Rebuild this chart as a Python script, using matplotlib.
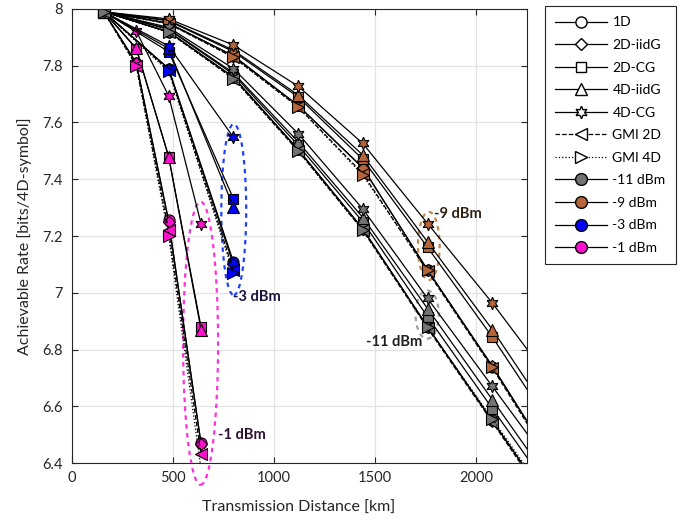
import matplotlib.pyplot as plt
from matplotlib.lines import Line2D
from matplotlib.patches import Ellipse

plt.rcParams['font.family'] = ['Lato', 'DejaVu Sans']

# distances [km] where each curve is sampled
dist_m11 = [160, 480, 800, 1120, 1440, 1760, 2080, 2400]
dist_m9 = [160, 480, 800, 1120, 1440, 1760, 2080, 2400]
dist_m3 = [160, 480, 800]
dist_m1 = [160, 320, 480, 640]

# -11 dBm
m11_1d = [7.99, 7.92, 7.76, 7.505, 7.225, 6.88, 6.55, 6.22]
m11_2diidg = [7.99, 7.92, 7.76, 7.505, 7.225, 6.88, 6.548, 6.22]
m11_2dcg = [7.99, 7.928, 7.77, 7.52, 7.25, 6.915, 6.592, 6.27]
m11_4diidg = [7.99, 7.93, 7.775, 7.532, 7.265, 6.944, 6.623, 6.30]
m11_4dcg = [7.99, 7.935, 7.79, 7.561, 7.295, 6.98, 6.67, 6.36]
m11_gmi2d = [7.99, 7.918, 7.755, 7.50, 7.22, 6.875, 6.544, 6.21]
m11_gmi4d = [7.99, 7.918, 7.755, 7.50, 7.22, 6.878, 6.556, 6.23]

# -9 dBm
m9_1d = [7.99, 7.95, 7.835, 7.66, 7.44, 7.08, 6.74, 6.38]
m9_2diidg = [7.99, 7.95, 7.835, 7.66, 7.44, 7.08, 6.742, 6.38]
m9_2dcg = [7.99, 7.958, 7.85, 7.69, 7.47, 7.16, 6.844, 6.50]
m9_4diidg = [7.99, 7.96, 7.855, 7.697, 7.485, 7.179, 6.87, 6.53]
m9_4dcg = [7.99, 7.965, 7.873, 7.728, 7.526, 7.244, 6.964, 6.66]
m9_gmi2d = [7.99, 7.948, 7.83, 7.655, 7.42, 7.075, 6.735, 6.37]
m9_gmi4d = [7.99, 7.948, 7.83, 7.655, 7.414, 7.079, 6.738, 6.38]

# -3 dBm
m3_1d = [7.99, 7.79, 7.11]
m3_2diidg = [7.99, 7.79, 7.10]
m3_2dcg = [7.99, 7.85, 7.332]
m3_4diidg = [7.99, 7.861, 7.303]
m3_4dcg = [7.99, 7.87, 7.548]
m3_gmi2d = [7.99, 7.785, 7.08]
m3_gmi4d = [7.99, 7.78, 7.068]

# -1 dBm
m1_1d = [7.99, 7.81, 7.255, 6.47]
m1_2diidg = [7.99, 7.81, 7.25, 6.468]
m1_2dcg = [7.99, 7.86, 7.48, 6.88]
m1_4diidg = [7.99, 7.862, 7.48, 6.87]
m1_4dcg = [7.99, 7.922, 7.694, 7.244]
m1_gmi2d = [7.99, 7.80, 7.22, 6.43]
m1_gmi4d = [7.99, 7.80, 7.20, 6.38]

format_names = ['1D', '2D-iidG', '2D-CG', '4D-iidG', '4D-CG', 'GMI 2D', 'GMI 4D']
power_names = ['-11 dBm', '-9 dBm', '-3 dBm', '-1 dBm']

markers = ['o', 'D', 's', '^', (6, 1, 0), '<', '>']
msizes = [8, 6.5, 7.5, 9, 9, 8.5, 8.5]
lstyles = ['-', '-', '-', '-', '-', '--', ':']
colors = ['#737373', '#b5653a', '#0000ff', '#ff10d0']

fig = plt.figure(figsize=(6.97, 5.23), dpi=100)
ax = fig.add_axes([0.1026, 0.1147, 0.6531, 0.8681])

groups = [
    (dist_m1, [m1_1d, m1_2diidg, m1_2dcg, m1_4diidg, m1_4dcg, m1_gmi2d, m1_gmi4d], colors[3]),
    (dist_m3, [m3_1d, m3_2diidg, m3_2dcg, m3_4diidg, m3_4dcg, m3_gmi2d, m3_gmi4d], colors[2]),
    (dist_m9, [m9_1d, m9_2diidg, m9_2dcg, m9_4diidg, m9_4dcg, m9_gmi2d, m9_gmi4d], colors[1]),
    (dist_m11, [m11_1d, m11_2diidg, m11_2dcg, m11_4diidg, m11_4dcg, m11_gmi2d, m11_gmi4d], colors[0]),
]

for dist, curves, col in groups:
    for i, rate in enumerate(curves):
        ax.plot(dist, rate, color='black', linestyle=lstyles[i], linewidth=0.9,
                marker=markers[i], markersize=msizes[i], markerfacecolor=col,
                markeredgecolor='black', markeredgewidth=0.8)

# dashed ellipses around the groups
ell_style = dict(fill=False, linestyle=(0, (2, 2)), linewidth=1.6, clip_on=False)
ax.add_patch(Ellipse((638, 6.822), 173, 0.998, edgecolor='#ff30d8', **ell_style))
ax.add_patch(Ellipse((802, 7.293), 123, 0.603, edgecolor='#2040ff', **ell_style))
ax.add_patch(Ellipse((1766, 7.165), 107, 0.241, edgecolor='#c08850', **ell_style))
ax.add_patch(Ellipse((1758, 6.923), 115, 0.170, edgecolor='#a0a0a0', **ell_style))

txt = dict(fontsize=10.5, fontweight='bold', va='center', ha='left')
ax.text(799, 6.984, '-3 dBm', color='#14143c', **txt)
ax.text(725, 6.497, '-1 dBm', color='#301030', **txt)
ax.text(1457, 6.826, '-11 dBm', color='#202020', **txt)
ax.text(1794, 7.276, '-9 dBm', color='#302010', **txt)

ax.set_xlim(0, 2250)
ax.set_ylim(6.4, 8)
ax.set_xticks([0, 500, 1000, 1500, 2000])
ax.set_yticks([6.4, 6.6, 6.8, 7.0, 7.2, 7.4, 7.6, 7.8, 8.0])
ax.set_yticklabels(['6.4', '6.6', '6.8', '7', '7.2', '7.4', '7.6', '7.8', '8'])
ax.grid(True, color='#e3e3e3', linewidth=0.9)
ax.set_axisbelow(True)
ax.tick_params(direction='in', top=True, right=True, length=4, labelsize=10.5,
               colors='#262626')
ax.tick_params(axis='x', pad=6)
ax.tick_params(axis='y', pad=6.5)
for sp in ax.spines.values():
    sp.set_color('#262626')
    sp.set_linewidth(0.8)

ax.set_xlabel('Transmission Distance [km]', fontsize=11.5, color='#262626', labelpad=11)
ax.set_ylabel('Achievable Rate [bits/4D-symbol]', fontsize=11.5, color='#262626', labelpad=7)

# legend with proxy handles
handles = []
for i, name in enumerate(format_names):
    handles.append(Line2D([], [], color='black', linestyle=lstyles[i], linewidth=0.9,
                          marker=markers[i], markersize=msizes[i],
                          markerfacecolor='white', markeredgecolor='black'))
for col in colors:
    handles.append(Line2D([], [], color='black', linewidth=0.9, marker='o',
                          markersize=8.5, markerfacecolor=col, markeredgecolor='black'))
leg = fig.legend(handles, format_names + power_names, loc='upper left',
                 bbox_to_anchor=(0.782, 0.9885), borderaxespad=0, fontsize=10,
                 handlelength=3.7, handletextpad=0.4, labelspacing=0.76, borderpad=0.75,
                 fancybox=False, framealpha=1, edgecolor='#262626')
leg.get_frame().set_linewidth(0.8)

fig.savefig('out.png', dpi=100)
